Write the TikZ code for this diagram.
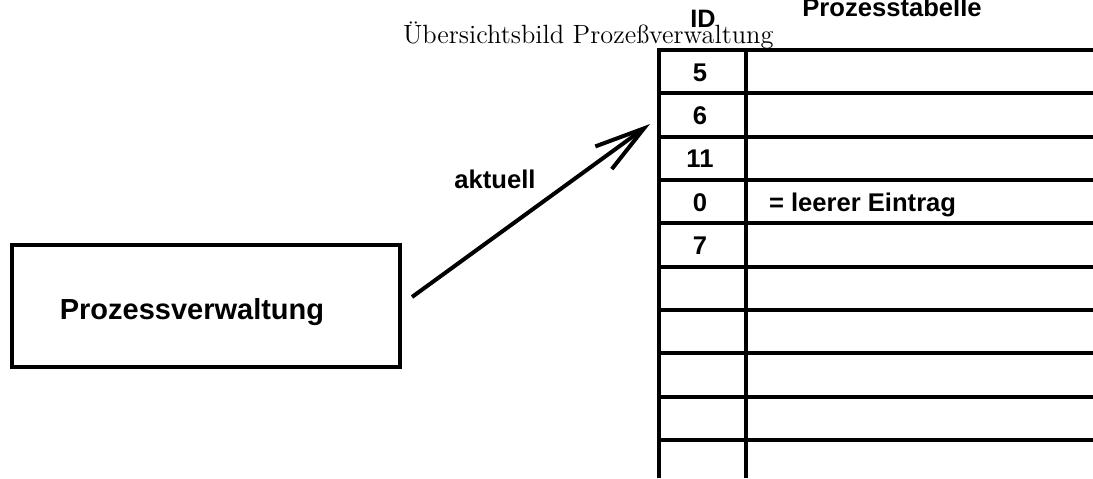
\documentclass[tikz,border=0pt]{standalone}
\usepackage{fontspec}
\newfontfamily\arial{Liberation Sans}
\usetikzlibrary{arrows.meta}

\begin{document}
\begin{tikzpicture}[x=0.5pt, y=-0.5pt, line width=2pt,
  muiten/.style={-{Straight Barb[length=25pt,width=14pt]}},
  khung/.style={draw, minimum width=194pt, minimum height=61pt, inner sep=0pt},
  chu/.style={font=\arial\bfseries\fontsize{12.8}{14}\selectfont, anchor=base, inner sep=0pt}]
\useasboundingbox (0,0) rectangle (1093,478);
% tiêu đề
\node[anchor=base west, inner sep=0pt, font=\fontsize{13.2}{15}\selectfont] (tieude) at (401,43) {Übersichtsbild Prozeßverwaltung};
\node[chu, font=\arial\bfseries\fontsize{12.6}{14}\selectfont] (id) at (703,27) {ID};
\node[chu] (bang) at (892,16) {Prozesstabelle};
% bảng: các hàng và hai cột
\foreach \k in {0,...,9}
  \draw (657,{50+43.33*\k}) -- (1093,{50+43.33*\k});
\draw (659,48) -- (659,478);
\draw (746,48) -- (746,478);
\foreach \so [count=\i] in {5,6,11,0,7}
  \node[chu] (so\i) at (700,{50+43.33*(\i-0.5)+9.5}) {\so};
\node[chu, anchor=base west] (rong) at (767,211) {= leerer Eintrag};
% khối quản lý tiến trình
\node[khung] (pv) at (206,306) {};
\node[chu, font=\arial\bfseries\fontsize{14.5}{16}\selectfont] (pvchu) at (192,319) {Prozessverwaltung};
% mũi tên "aktuell"
\coordinate (dich) at (650,124);
\draw[muiten] ([xshift=5pt,yshift=4.5pt]pv.east) -- (dich);
\node[chu] (aktuell) at (495,188) {aktuell};
\end{tikzpicture}
\end{document}
